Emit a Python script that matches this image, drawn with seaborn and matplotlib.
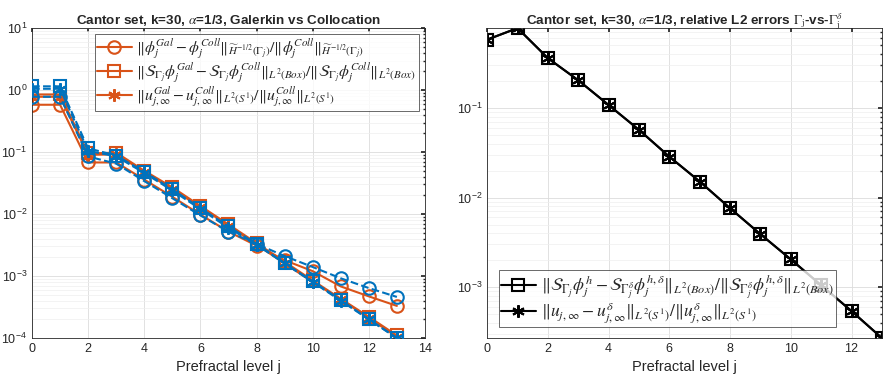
import numpy as np
import pandas as pd
import matplotlib
matplotlib.use("Agg")
import matplotlib.pyplot as plt
import seaborn as sns

# ---------------- data ----------------
levels = list(range(14))

# left panel: Galerkin vs Collocation (orange, solid)
gal_phi = [0.58, 0.58, 0.068, 0.068, 0.036, 0.019, 0.0098, 0.0052, 0.0031, 0.0018, 0.0012, 0.00068, 0.00047, 0.00033]
gal_S   = [0.85, 0.85, 0.095, 0.098, 0.050, 0.027, 0.0135, 0.0068, 0.0034, 0.0017, 0.00085, 0.00043, 0.00022, 0.00011]
gal_u   = [0.78, 0.78, 0.090, 0.092, 0.048, 0.025, 0.013, 0.0065, 0.0032, 0.0016, 0.00080, 0.00042, 0.00021, 0.000105]
# second (blue, dashed) set
alt_phi = [0.78, 0.78, 0.085, 0.065, 0.034, 0.018, 0.0095, 0.0052, 0.0033, 0.0021, 0.0014, 0.00092, 0.00064, 0.00046]
alt_S   = [1.15, 1.15, 0.115, 0.088, 0.048, 0.025, 0.0125, 0.0063, 0.0033, 0.0016, 0.00082, 0.00041, 0.00020, 0.00010]
alt_u   = [1.05, 1.05, 0.105, 0.085, 0.046, 0.024, 0.0120, 0.0060, 0.0032, 0.0016, 0.00080, 0.00040, 0.00020, 0.00010]

# right panel: Gamma_j vs Gamma_j^delta
rel_S = [0.58, 0.78, 0.36, 0.204, 0.108, 0.057, 0.0286, 0.0151, 0.0076, 0.0039, 0.00204, 0.00105, 0.00054, 0.00027]
rel_u = [0.58, 0.78, 0.36, 0.204, 0.108, 0.057, 0.0286, 0.0151, 0.0076, 0.0039, 0.00204, 0.00105, 0.00054, 0.00027]

left_labels = [
    r"$\|\phi_j^{Gal}-\phi_j^{Coll}\|_{\widetilde{H}^{-1/2}(\Gamma_j)}/\|\phi_j^{Coll}\|_{\widetilde{H}^{-1/2}(\Gamma_j)}$",
    r"$\|\mathcal{S}_{\Gamma_j}\phi_j^{Gal}-\mathcal{S}_{\Gamma_j}\phi_j^{Coll}\|_{L^2(Box)}/\|\mathcal{S}_{\Gamma_j}\phi_j^{Coll}\|_{L^2(Box)}$",
    r"$\|u_{j,\infty}^{Gal}-u_{j,\infty}^{Coll}\|_{L^2(S^1)}/\|u_{j,\infty}^{Coll}\|_{L^2(S^1)}$",
]
right_labels = [
    r"$\|\mathcal{S}_{\Gamma_j}\phi_j^{h}-\mathcal{S}_{\Gamma_j^\delta}\phi_j^{h,\delta}\|_{L^2(Box)}/\|\mathcal{S}_{\Gamma_j^\delta}\phi_j^{h,\delta}\|_{L^2(Box)}$",
    r"$\|u_{j,\infty}-u_{j,\infty}^\delta\|_{L^2(S^1)}/\|u_{j,\infty}^\delta\|_{L^2(S^1)}$",
]

# ---------------- style ----------------
sns.set_theme(style="white")
plt.rcParams["font.family"] = ["Liberation Sans", "DejaVu Sans"]
plt.rcParams["mathtext.fontset"] = "stix"
plt.rcParams["axes.edgecolor"] = "#262626"
plt.rcParams["axes.linewidth"] = 0.6

ORANGE = "#D95319"
BLUE = "#0072BD"
STAR = (6, 2, 0)

fig = plt.figure(figsize=(8.89, 3.85), dpi=100)
axL = fig.add_axes([0.036, 0.122, 0.442, 0.805])
axR = fig.add_axes([0.548, 0.122, 0.444, 0.805])


def draw(ax, y, color, marker, ls, label=None, ms=8, zorder=2):
    sns.lineplot(x=levels, y=y, ax=ax, color=color, marker=marker, linestyle=ls,
                 linewidth=1.5, markersize=ms, markerfacecolor="none",
                 markeredgecolor=color, markeredgewidth=1.5, label=label,
                 zorder=zorder, legend=False)
    return ax.get_lines()[-1]


hL = []
hL.append(draw(axL, gal_phi, ORANGE, "o", "-", left_labels[0], ms=9))
hL.append(draw(axL, gal_S, ORANGE, "s", "-", left_labels[1], ms=9))
hL.append(draw(axL, gal_u, ORANGE, STAR, "-", left_labels[2], ms=9))
draw(axL, alt_phi, BLUE, "o", "--", ms=9, zorder=3)
draw(axL, alt_S, BLUE, "s", "--", ms=9, zorder=3)
draw(axL, alt_u, BLUE, STAR, "--", ms=9, zorder=3)

hR = []
hR.append(draw(axR, rel_S, "black", "s", "-", right_labels[0], ms=9))
hR.append(draw(axR, rel_u, "black", STAR, "-", right_labels[1], ms=9))

for ax in (axL, axR):
    ax.set_yscale("log")
    ax.grid(True, which="major", color="#dcdcdc", linewidth=0.6)
    ax.grid(True, which="minor", color="#eeeeee", linewidth=0.5)
    ax.tick_params(direction="in", which="both", top=True, right=True,
                   labelsize=9, colors="#262626", length=3)
    ax.tick_params(which="minor", length=1.5)
    ax.set_xlabel("Prefractal level j", fontsize=10.5, color="#262626", labelpad=4)
    ax.set_ylabel("")
    ax.set_axisbelow(True)
    for sp in ax.spines.values():
        sp.set_visible(True)
        sp.set_color("#262626")

axL.set_xlim(0, 14)
axL.set_xticks(range(0, 15, 2))
axL.set_ylim(1e-4, 1e1)
axL.set_yticks([1e-4, 1e-3, 1e-2, 1e-1, 1e0, 1e1])
axL.set_title(r"Cantor set, k=30, $\alpha$=1/3, Galerkin vs Collocation",
              fontsize=9.7, fontweight="bold", pad=3)

axR.set_xlim(0, 13)
axR.set_xticks(range(0, 13, 2))
axR.set_ylim(min(rel_S), max(rel_S))
axR.set_yticks([1e-3, 1e-2, 1e-1])
axR.set_title(r"Cantor set, k=30, $\alpha$=1/3, relative L2 errors $\Gamma_{\rm j}$-vs-$\Gamma_{\rm j}^\delta$",
              fontsize=9.7, fontweight="bold", pad=3)

legL = axL.legend(handles=hL, labels=left_labels, loc="upper right", fontsize=11.3,
                  frameon=True, fancybox=False, edgecolor="#262626",
                  borderaxespad=0.4, handlelength=2.2, labelspacing=0.0,
                  borderpad=0.15, handletextpad=0.3)
legL.get_frame().set_linewidth(0.6)

legR = axR.legend(handles=hR, labels=right_labels, loc="lower left", fontsize=12.6,
                  frameon=True, fancybox=False, edgecolor="#262626",
                  bbox_to_anchor=(0.03, 0.035), borderaxespad=0.0, handlelength=2.0,
                  labelspacing=0.0, borderpad=0.1, handletextpad=0.3)
legR.get_frame().set_linewidth(0.6)

fig.savefig("out.png", dpi=100)
